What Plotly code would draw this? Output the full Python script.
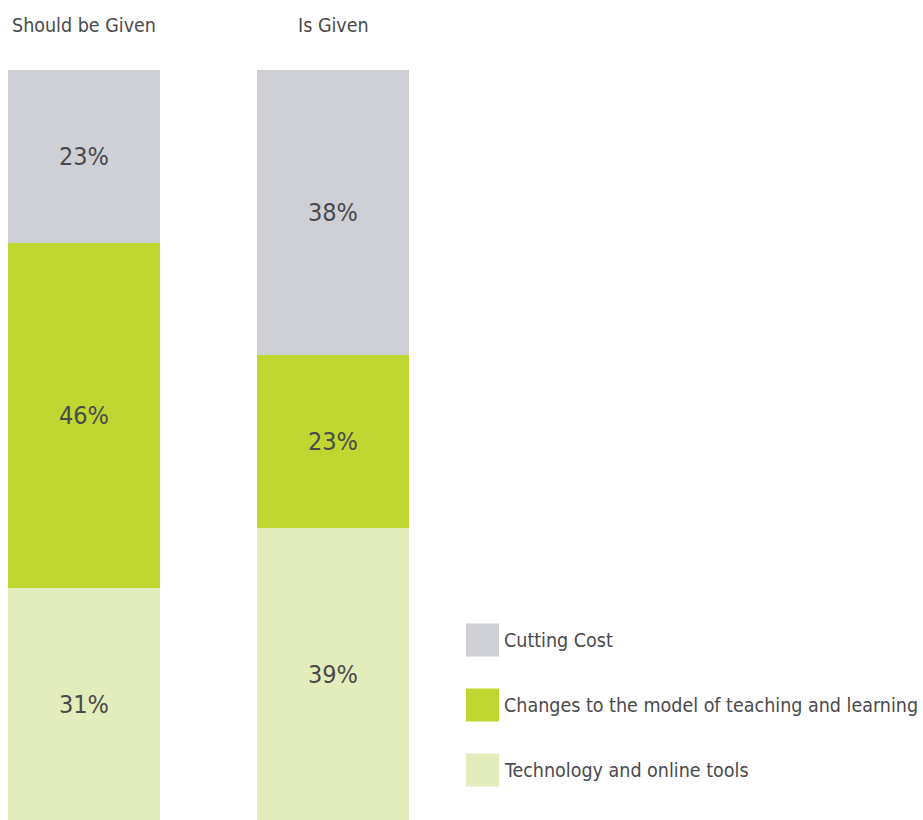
import plotly.graph_objects as go

# Survey results: where focus should be given vs. where it is given (percent)
groups = ["Should be Given", "Is Given"]
series_names = ["Cutting Cost", "Changes to the model of teaching and learning", "Technology and online tools"]
cutting_cost = [23, 38]
teaching_model = [46, 23]
technology = [31, 39]

colors = {
    "Cutting Cost": "#cfd0d5",
    "Changes to the model of teaching and learning": "#bfd730",
    "Technology and online tools": "#e3ecbb",
}

FONT = "DejaVu Sans Condensed, DejaVu Sans, sans-serif"
TEXT = "#4a4a4c"
W, H = 923, 820

def font(size):
    return dict(family=FONT, size=size, color=TEXT)

xpos = [0, 1]
fig = go.Figure()
# bottom to top in the stack
for name, vals in [(series_names[2], technology), (series_names[1], teaching_model), (series_names[0], cutting_cost)]:
    fig.add_trace(go.Bar(
        x=xpos, y=vals, name=name,
        marker=dict(color=colors[name], line=dict(width=0)),
        width=0.61,
        text=[f"{v}%" for v in vals],
        textposition="inside", insidetextanchor="middle",
        textangle=0,
        insidetextfont=font(25),
        hoverinfo="skip",
        showlegend=False,
    ))

# group titles above the bars
for xp, g in zip(xpos, groups):
    fig.add_annotation(x=xp, xref="x", y=1 - 25 / H, yref="paper",
                       text=g, showarrow=False, font=font(19.5),
                       xanchor="center", yanchor="middle")

# legend: large swatches with labels
leg_x0, leg_size = 466, 33
leg_centers = [640, 705, 770]
for name, cy in zip(series_names, leg_centers):
    fig.add_shape(type="rect", xref="paper", yref="paper",
                  x0=leg_x0 / W, x1=(leg_x0 + leg_size) / W,
                  y0=1 - (cy + leg_size / 2) / H, y1=1 - (cy - leg_size / 2) / H,
                  fillcolor=colors[name], line=dict(width=0))
    fig.add_annotation(x=502 / W, xref="paper", y=1 - cy / H, yref="paper",
                       text=name, showarrow=False, font=font(19.5),
                       xanchor="left", yanchor="middle")

unit = 249.0
x_left = -84 / unit
fig.update_layout(
    width=W, height=H,
    margin=dict(l=0, r=0, t=0, b=0),
    paper_bgcolor="white", plot_bgcolor="white",
    barmode="stack", bargap=0,
    uniformtext=dict(mode=False),
    xaxis=dict(range=[x_left, x_left + W / unit], visible=False, fixedrange=True),
    yaxis=dict(range=[0, 100 + 70 / 7.5], visible=False, fixedrange=True),
    showlegend=False,
)

fig.write_html("out.html")
